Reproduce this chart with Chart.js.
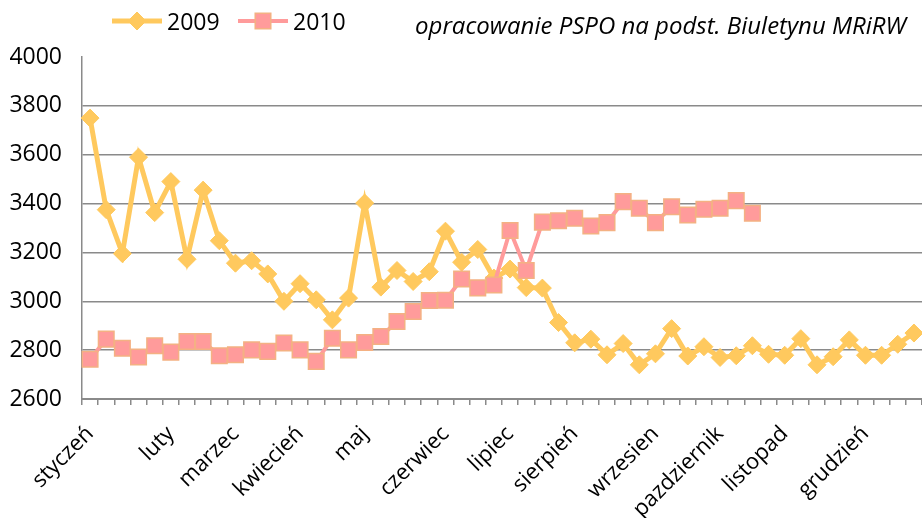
<!DOCTYPE html>
<html>
<head>
<meta charset="utf-8">
<script src="https://cdn.jsdelivr.net/npm/chart.js@4.4.0/dist/chart.umd.min.js"></script>
<style>
  html, body { margin: 0; padding: 0; background: #fff; }
  #wrap { width: 922px; height: 518px; position: relative; }
</style>
</head>
<body>
<div id="wrap"><canvas id="myChart"></canvas></div>
<script>
// weekly prices, 52 weeks
const weekCount = 52;
const monthNames = ['styczeń', 'luty', 'marzec', 'kwiecień', 'maj', 'czerwiec', 'lipiec',
  'sierpień', 'wrzesien', 'pazdziernik', 'listopad', 'grudzień'];
const monthWeeks = [0, 5, 9, 13, 17, 22, 26, 30, 35, 39, 43, 48];

const price2009 = [3750, 3375, 3195, 3590, 3363, 3490, 3172, 3455, 3248, 3156, 3166, 3112,
  3000, 3072, 3006, 2924, 3013, 3402, 3058, 3126, 3081, 3121, 3287, 3160,
  3212, 3095, 3132, 3056, 3054, 2913, 2830, 2845, 2781, 2827, 2740, 2785,
  2888, 2776, 2814, 2770, 2777, 2818, 2783, 2779, 2847, 2740, 2773, 2842,
  2779, 2779, 2824, 2870];
const price2010 = [2763, 2845, 2808, 2772, 2818, 2792, 2835, 2835, 2777, 2781, 2801, 2795,
  2829, 2801, 2754, 2849, 2801, 2831, 2856, 2917, 2958, 3003, 3004, 3091,
  3055, 3067, 3290, 3126, 3324, 3330, 3340, 3308, 3322, 3408, 3381, 3322,
  3387, 3353, 3377, 3381, 3412, 3360];

const yMin = 2600, yMax = 4000, yStep = 200;
const sourceNote = 'opracowanie PSPO na podst. Biuletynu MRiRW';

const weekLabels = [];
for (let i = 0; i < weekCount; i++) weekLabels.push('');
monthWeeks.forEach((w, i) => { weekLabels[w] = monthNames[i]; });

const gridGray = '#8a8a8a';
const yellow = '#FFC95E';
const pink = '#FF9B9B';

// legend + note drawn on top
const legendAndNote = {
  id: 'legendAndNote',
  afterDraw(chart) {
    const ctx = chart.ctx;
    const items = [
      { ds: chart.data.datasets[0], x: 112 },
      { ds: chart.data.datasets[1], x: 238 }
    ];
    ctx.save();
    items.forEach(it => {
      const y = 21;
      ctx.strokeStyle = it.ds.borderColor;
      ctx.lineWidth = it.ds.borderWidth;
      ctx.beginPath();
      ctx.moveTo(it.x, y);
      ctx.lineTo(it.x + 50, y);
      ctx.stroke();
      ctx.fillStyle = it.ds.pointBackgroundColor;
      ctx.strokeStyle = it.ds.pointBorderColor;
      ctx.lineWidth = it.ds.pointBorderWidth;
      Chart.helpers.drawPoint(ctx, {
        pointStyle: it.ds.pointStyle,
        radius: it.ds.pointRadius,
        borderWidth: it.ds.pointBorderWidth,
        rotation: 0
      }, it.x + 25, y);
      ctx.fillStyle = '#000';
      ctx.font = '23px "Open Sans"';
      ctx.textBaseline = 'alphabetic';
      ctx.textAlign = 'left';
      ctx.fillText(it.ds.label, it.x + 55, 30);
    });
    ctx.font = 'italic 24px "Open Sans"';
    ctx.fillText(sourceNote, 415, 34);
    ctx.restore();
  }
};

const ctx = document.getElementById('myChart').getContext('2d');

const chart = new Chart(ctx, {
  type: 'line',
  data: {
    labels: weekLabels,
    datasets: [
      {
        label: '2009',
        data: price2009,
        borderColor: yellow,
        borderWidth: 5,
        pointStyle: 'rectRot',
        pointRadius: 9,
        pointBackgroundColor: yellow,
        pointBorderColor: yellow,
        pointBorderWidth: 1,
        tension: 0,
        order: 2
      },
      {
        label: '2010',
        data: price2010,
        borderColor: pink,
        borderWidth: 4,
        pointStyle: 'rect',
        pointRadius: 11,
        pointBackgroundColor: pink,
        pointBorderColor: '#F4B183',
        pointBorderWidth: 1.5,
        tension: 0,
        order: 1
      }
    ]
  },
  options: {
    responsive: true,
    maintainAspectRatio: false,
    animation: false,
    layout: { autoPadding: false, padding: { top: 57, right: 0, left: 0, bottom: 0 } },
    plugins: {
      legend: { display: false },
      tooltip: { enabled: false }
    },
    scales: {
      x: {
        offset: true,
        grid: {
          offset: true,
          drawOnChartArea: false,
          drawTicks: true,
          tickLength: 6,
          color: gridGray,
          lineWidth: 1.5
        },
        border: { color: gridGray, width: 2 },
        ticks: {
          autoSkip: false,
          minRotation: 45,
          maxRotation: 45,
          padding: 16,
          color: '#000',
          font: { family: 'Open Sans', size: 22 }
        },
        afterFit(scale) {
          scale.height = 119;
          scale.paddingLeft = 0;
          scale.paddingRight = 0;
        }
      },
      y: {
        min: yMin,
        max: yMax,
        grid: {
          drawTicks: false,
          color: c => (c.tick && c.tick.value === yMax ? 'rgba(0,0,0,0)' : gridGray),
          lineWidth: 1.5
        },
        border: { color: gridGray, width: 1.5 },
        ticks: {
          stepSize: yStep,
          padding: 20,
          color: '#000',
          font: { family: 'Open Sans', size: 23 },
          callback: v => String(v)
        },
        afterFit(scale) { scale.width = 82; }
      }
    }
  },
  plugins: [legendAndNote]
});
</script>
</body>
</html>
